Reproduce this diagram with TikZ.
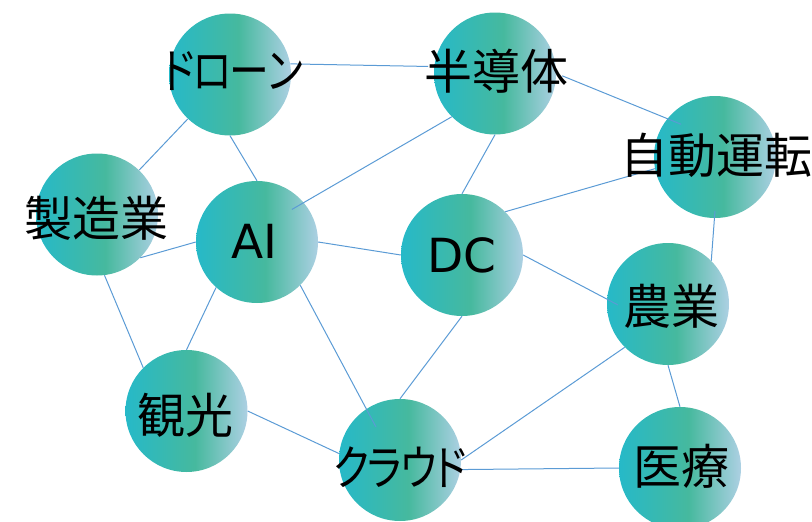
\documentclass[tikz,border=0pt]{standalone}
\usepackage{fontspec}
\setmainfont{Noto Sans CJK JP}[RawFeature=+palt]
\newfontfamily\latinlbl{DejaVu Sans}
\usetikzlibrary{calc}
\definecolor{cA}{HTML}{26B9C8}
\definecolor{cB}{HTML}{46B99E}
\definecolor{cC}{HTML}{ADD0E3}
\definecolor{edgeblue}{HTML}{5B9BD5}
\pgfdeclarehorizontalshading{nodegrad}{100bp}{color(0bp)=(cA); color(25bp)=(cA); color(53.5bp)=(cB); color(75bp)=(cC); color(100bp)=(cC)}
\newcommand{\kk}{\kern-2pt }
\newcommand{\kanatxt}[1]{\scalebox{0.83}[1]{\fontsize{48}{52}\selectfont #1}}
\begin{document}
\begin{tikzpicture}[x=1pt,y=-1pt,
  hub/.style={circle,minimum size=122pt,inner sep=0pt,shading=nodegrad},
  lbl/.style={font=\fontsize{48}{52}\selectfont,inner sep=0pt},
  latin/.style={font=\latinlbl\fontsize{47}{52}\selectfont,inner sep=0pt},
  link/.style={draw=edgeblue,line width=1pt}]
\useasboundingbox (0,0) rectangle (812,522);
% circles
\node[hub] (drone) at (230,74.5) {};
\node[hub] (semi)  at (495,73.5) {};
\node[hub] (jido)  at (715,157) {};
\node[hub] (seizo) at (97,214.5) {};
\node[hub] (ai)    at (257,242) {};
\node[hub] (dc)    at (462,255) {};
\node[hub] (nogyo) at (668,304) {};
\node[hub] (kanko) at (186.5,411) {};
\node[hub] (cloud) at (400,460) {};
\node[hub] (iryo)  at (680,468) {};
% connectors
\draw[link] (drone.10) -- ($(semi.center)!1.1!(semi.174)$);
\draw[link] (drone) -- (seizo);
\draw[link] (drone.south) -- (ai.north);
\draw[link] (semi.225) -- ($(ai.center)!0.78!(ai.43)$);
\draw[link] (semi.south) -- (dc.north);
\draw[link] ($(semi.center)!1.1!(semi.358)$) -- ($(jido.center)!0.77!(jido.136)$);
\draw[link] (jido.191) -- (dc.45);
\draw[link] ($(jido.center)!0.88!(jido.270)$) -- (nogyo.45);
\draw[link] (seizo.315) -- (ai.180);
\draw[link] (seizo.277) -- (kanko.135);
\draw[link] (ai.east) -- (dc.west);
\draw[link] (ai.228) -- (kanko.north);
\draw[link] (ai.315) -- ($(cloud.center)!0.67!(cloud.126)$);
\draw[link] (dc.south) -- (cloud.north);
\draw[link] (dc.east) -- ($(nogyo.center)!0.82!(nogyo.181)$);
\draw[link] (nogyo.225) -- (cloud.east);
\draw[link] (nogyo.south) -- (iryo.north);
\draw[link] (kanko.east) -- (cloud.174);
\draw[link] (cloud.351) -- (iryo.west);
% labels
\node[lbl] (t-drone) at (233,71)     {\kanatxt{ド\kk ロ\kk ー\kk ン}};
\node[lbl] (t-semi)  at (496,71.3)   {半導体};
\node[lbl] (t-jido)  at (716,155)    {自動運転};
\node[lbl] (t-seizo) at (96.5,218.7) {製造業};
\node[latin] (t-ai)  at (254.7,241.2) {AI};
\node[latin] (t-dc)  at (462.2,255.7) {DC};
\node[lbl] (t-nogyo) at (671.7,306)  {農業};
\node[lbl] (t-kanko) at (185.8,415)  {観光};
\node[lbl] (t-cloud) at (400,467.5)  {\kanatxt{ク\kk ラ\kk ウ\kk ド}};
\node[lbl] (t-iryo)  at (681.7,465.8) {医療};
\end{tikzpicture}
\end{document}
